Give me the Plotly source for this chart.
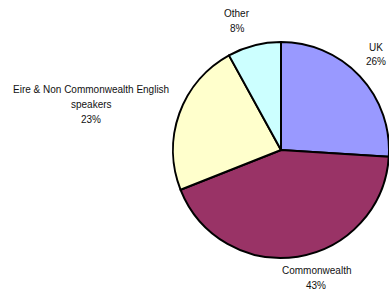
import plotly.graph_objects as go

categories = ["UK", "Commonwealth", "Eire & Non Commonwealth English speakers", "Other"]
values = [26, 43, 23, 8]
colors = ["#9999FF", "#993366", "#FFFFCC", "#CCFFFF"]

W, H = 389, 290

fig = go.Figure(go.Pie(
    labels=categories,
    values=values,
    sort=False,
    direction="clockwise",
    rotation=0,
    marker=dict(colors=colors, line=dict(color="black", width=2)),
    textinfo="none",
    hoverinfo="label+percent",
    domain=dict(x=[173 / W, 1.0], y=[1 - 260 / H, 1 - 40 / H]),
    showlegend=False,
))

# label text lines: (lines, center x px, first line y px)
label_lines = [
    (["UK", "26%"], 376, 47),
    (["Commonwealth", "43%"], 316, 270),
    (["Eire & Non Commonwealth English", "speakers", "23%"], 91, 90),
    (["Other", "8%"], 237, 14),
]

annotations = []
for lines, cx, y0 in label_lines:
    for i, t in enumerate(lines):
        annotations.append(dict(
            text=t, x=cx / W, y=1 - (y0 + 15 * i) / H,
            xref="paper", yref="paper", showarrow=False,
            xanchor="center", yanchor="middle",
            font=dict(family="Liberation Sans, Arial", size=10, color="#111111"),
        ))

fig.update_layout(
    width=W, height=H,
    margin=dict(l=0, r=0, t=0, b=0),
    paper_bgcolor="white", plot_bgcolor="white",
    annotations=annotations,
)

fig.write_html(
    "out.html",
    config={"displayModeBar": False},
    post_script="document.body.style.margin='0';document.body.style.overflow='hidden';",
)
